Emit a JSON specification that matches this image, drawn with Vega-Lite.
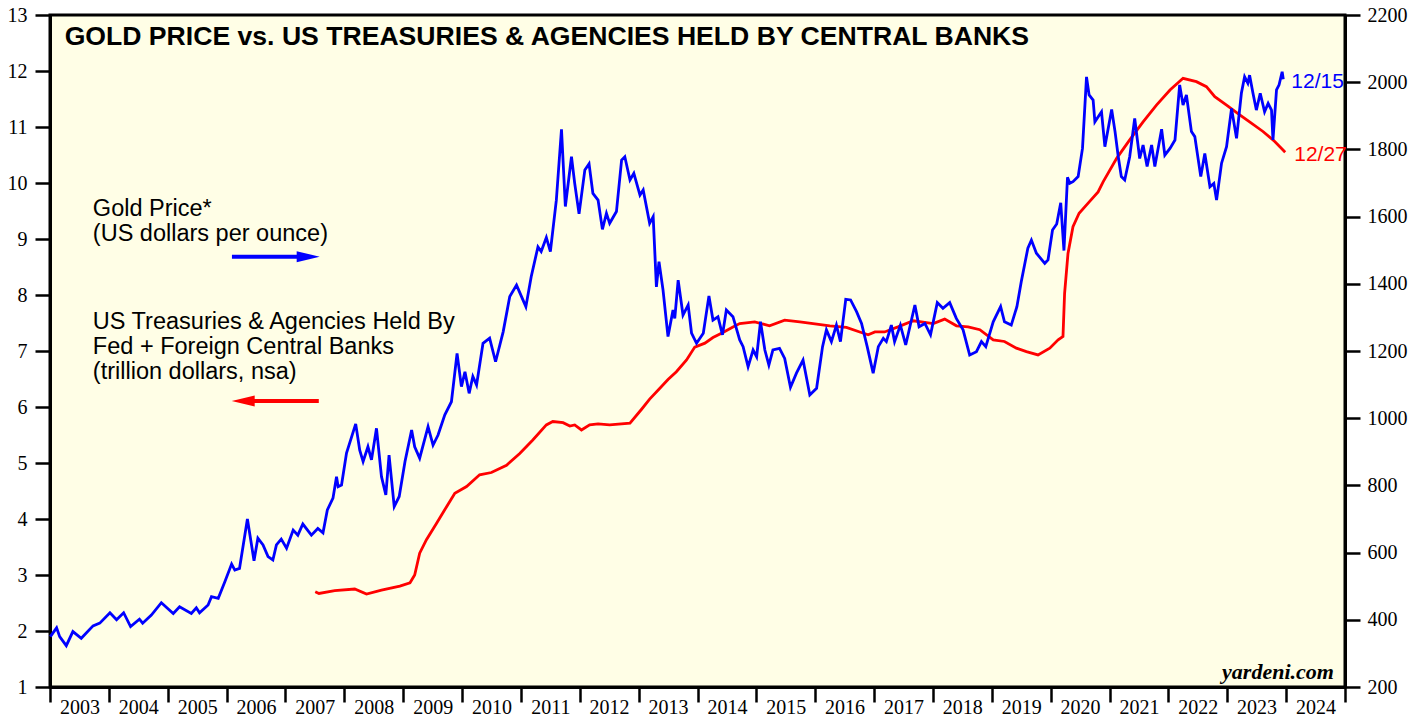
{
  "$schema": "https://vega.github.io/schema/vega-lite/v6.json",
  "width": 1295,
  "height": 672,
  "autosize": {"type": "none"},
  "padding": {"left": 50, "top": 15, "right": 82, "bottom": 32},
  "background": "white",
  "config": {
    "view": {"stroke": "black", "strokeWidth": 3, "fill": "#FFFEE6"},
    "axis": {"grid": false, "domainColor": "black", "domainWidth": 3, "tickColor": "black", "tickWidth": 2.5, "labelColor": "black", "labelFont": "Liberation Serif", "labelFontSize": 20}
  },
  "datasets": {
    "gold": [
      {"date":"2003-01-03","price":350},{"date":"2003-02-11","price":376},{"date":"2003-03-02","price":350},{"date":"2003-04-12","price":323},{"date":"2003-05-23","price":365},{"date":"2003-07-14","price":345},{"date":"2003-09-25","price":382},{"date":"2003-11-06","price":390},
      {"date":"2004-01-08","price":421},{"date":"2004-02-18","price":400},{"date":"2004-04-02","price":421},{"date":"2004-05-15","price":380},{"date":"2004-07-09","price":402},{"date":"2004-07-29","price":390},{"date":"2004-09-21","price":414},{"date":"2004-11-22","price":451},
      {"date":"2005-02-04","price":419},{"date":"2005-03-15","price":439},{"date":"2005-05-27","price":419},{"date":"2005-06-27","price":436},{"date":"2005-07-17","price":421},{"date":"2005-09-08","price":444},{"date":"2005-09-29","price":469},{"date":"2005-11-10","price":464},{"date":"2005-12-21","price":513},
      {"date":"2006-02-01","price":566},{"date":"2006-02-21","price":548},{"date":"2006-03-22","price":553},{"date":"2006-05-10","price":700},{"date":"2006-06-20","price":576},{"date":"2006-07-14","price":643},{"date":"2006-08-15","price":623},{"date":"2006-09-15","price":588},{"date":"2006-10-15","price":578},{"date":"2006-11-06","price":623},{"date":"2006-12-06","price":640},
      {"date":"2007-01-08","price":613},{"date":"2007-02-18","price":667},{"date":"2007-03-19","price":652},{"date":"2007-04-19","price":685},{"date":"2007-06-11","price":652},{"date":"2007-07-21","price":672},{"date":"2007-08-22","price":659},{"date":"2007-09-18","price":727},{"date":"2007-10-23","price":762},{"date":"2007-11-14","price":826},{"date":"2007-11-24","price":796},{"date":"2007-12-15","price":801},
      {"date":"2008-01-15","price":896},{"date":"2008-03-12","price":983},{"date":"2008-04-06","price":905},{"date":"2008-04-27","price":871},{"date":"2008-05-27","price":915},{"date":"2008-06-18","price":876},{"date":"2008-07-19","price":970},{"date":"2008-08-19","price":826},{"date":"2008-09-15","price":772},{"date":"2008-10-05","price":890},{"date":"2008-11-06","price":737},{"date":"2008-12-07","price":767},
      {"date":"2009-01-12","price":871},{"date":"2009-02-22","price":965},{"date":"2009-03-13","price":915},{"date":"2009-04-13","price":881},{"date":"2009-06-04","price":975},{"date":"2009-07-05","price":920},{"date":"2009-08-05","price":950},{"date":"2009-09-16","price":1010},{"date":"2009-10-27","price":1049},{"date":"2009-12-01","price":1193},{"date":"2009-12-28","price":1094},
      {"date":"2010-01-19","price":1138},{"date":"2010-02-14","price":1074},{"date":"2010-03-09","price":1124},{"date":"2010-04-01","price":1099},{"date":"2010-05-11","price":1223},{"date":"2010-06-21","price":1238},{"date":"2010-07-28","price":1168},{"date":"2010-09-13","price":1257},{"date":"2010-10-24","price":1362},{"date":"2010-12-05","price":1396},
      {"date":"2011-02-01","price":1332},{"date":"2011-03-06","price":1421},{"date":"2011-04-17","price":1510},{"date":"2011-05-07","price":1496},{"date":"2011-06-08","price":1538},{"date":"2011-07-03","price":1496},{"date":"2011-08-09","price":1649},{"date":"2011-09-10","price":1860},{"date":"2011-10-04","price":1630},{"date":"2011-11-11","price":1778},{"date":"2011-12-01","price":1699},{"date":"2011-12-28","price":1608},
      {"date":"2012-02-02","price":1739},{"date":"2012-02-28","price":1757},{"date":"2012-03-23","price":1669},{"date":"2012-04-24","price":1649},{"date":"2012-05-21","price":1562},{"date":"2012-06-15","price":1610},{"date":"2012-07-05","price":1580},{"date":"2012-08-16","price":1615},{"date":"2012-09-17","price":1768},{"date":"2012-10-07","price":1778},{"date":"2012-11-08","price":1709},{"date":"2012-12-02","price":1729},
      {"date":"2013-01-09","price":1664},{"date":"2013-01-29","price":1679},{"date":"2013-03-10","price":1580},{"date":"2013-04-01","price":1600},{"date":"2013-04-21","price":1391},{"date":"2013-05-07","price":1466},{"date":"2013-06-01","price":1382},{"date":"2013-07-02","price":1243},{"date":"2013-08-02","price":1322},{"date":"2013-08-13","price":1297},{"date":"2013-09-03","price":1411},{"date":"2013-10-03","price":1307},{"date":"2013-11-04","price":1337},{"date":"2013-11-25","price":1253},{"date":"2013-12-26","price":1223},
      {"date":"2014-02-06","price":1253},{"date":"2014-03-13","price":1364},{"date":"2014-04-07","price":1292},{"date":"2014-05-08","price":1302},{"date":"2014-06-05","price":1248},{"date":"2014-06-29","price":1322},{"date":"2014-08-09","price":1302},{"date":"2014-09-20","price":1233},{"date":"2014-10-11","price":1213},{"date":"2014-11-11","price":1153},{"date":"2014-12-12","price":1203},
      {"date":"2015-01-03","price":1183},{"date":"2015-01-27","price":1287},{"date":"2015-02-23","price":1203},{"date":"2015-03-20","price":1158},{"date":"2015-04-14","price":1203},{"date":"2015-05-25","price":1208},{"date":"2015-06-26","price":1178},{"date":"2015-08-01","price":1092},{"date":"2015-09-07","price":1134},{"date":"2015-10-18","price":1173},{"date":"2015-11-29","price":1069},
      {"date":"2016-01-10","price":1089},{"date":"2016-02-16","price":1213},{"date":"2016-03-11","price":1263},{"date":"2016-04-11","price":1228},{"date":"2016-05-12","price":1277},{"date":"2016-06-06","price":1228},{"date":"2016-07-09","price":1354},{"date":"2016-08-08","price":1352},{"date":"2016-09-14","price":1317},{"date":"2016-10-15","price":1282},{"date":"2016-11-19","price":1213},{"date":"2016-12-26","price":1134},
      {"date":"2017-01-27","price":1213},{"date":"2017-02-27","price":1238},{"date":"2017-03-18","price":1228},{"date":"2017-04-18","price":1277},{"date":"2017-05-08","price":1228},{"date":"2017-06-13","price":1277},{"date":"2017-07-16","price":1218},{"date":"2017-09-11","price":1337},{"date":"2017-10-07","price":1272},{"date":"2017-11-12","price":1282},{"date":"2017-12-17","price":1248},
      {"date":"2018-01-28","price":1344},{"date":"2018-03-04","price":1327},{"date":"2018-04-15","price":1344},{"date":"2018-05-26","price":1297},{"date":"2018-07-07","price":1263},{"date":"2018-08-17","price":1188},{"date":"2018-09-28","price":1198},{"date":"2018-10-29","price":1228},{"date":"2018-11-25","price":1213},
      {"date":"2019-01-10","price":1287},{"date":"2019-02-25","price":1332},{"date":"2019-03-21","price":1287},{"date":"2019-05-02","price":1277},{"date":"2019-06-06","price":1332},{"date":"2019-07-03","price":1406},{"date":"2019-08-13","price":1506},{"date":"2019-09-04","price":1530},{"date":"2019-10-05","price":1491},{"date":"2019-11-26","price":1461},{"date":"2019-12-16","price":1471},
      {"date":"2020-01-13","price":1560},{"date":"2020-02-08","price":1578},{"date":"2020-03-04","price":1641},{"date":"2020-03-24","price":1499},{"date":"2020-04-15","price":1717},{"date":"2020-04-29","price":1699},{"date":"2020-05-19","price":1704},{"date":"2020-06-20","price":1719},{"date":"2020-07-17","price":1803},{"date":"2020-08-11","price":2016},{"date":"2020-08-27","price":1962},{"date":"2020-09-21","price":1947},{"date":"2020-10-02","price":1882},{"date":"2020-11-12","price":1912},{"date":"2020-12-03","price":1808},
      {"date":"2021-01-14","price":1919},{"date":"2021-02-04","price":1853},{"date":"2021-02-24","price":1778},{"date":"2021-03-15","price":1719},{"date":"2021-04-05","price":1709},{"date":"2021-05-06","price":1778},{"date":"2021-06-06","price":1892},{"date":"2021-07-07","price":1773},{"date":"2021-07-28","price":1813},{"date":"2021-08-22","price":1749},{"date":"2021-09-19","price":1813},{"date":"2021-10-09","price":1749},{"date":"2021-11-20","price":1860},{"date":"2021-12-10","price":1783},
      {"date":"2022-01-11","price":1803},{"date":"2022-02-11","price":1828},{"date":"2022-03-12","price":1992},{"date":"2022-04-02","price":1932},{"date":"2022-04-23","price":1962},{"date":"2022-05-24","price":1853},{"date":"2022-06-14","price":1838},{"date":"2022-07-21","price":1719},{"date":"2022-08-15","price":1788},{"date":"2022-09-16","price":1689},{"date":"2022-10-10","price":1699},{"date":"2022-10-27","price":1649},{"date":"2022-11-27","price":1759},{"date":"2022-12-28","price":1808},
      {"date":"2023-01-28","price":1922},{"date":"2023-02-28","price":1833},{"date":"2023-03-30","price":1967},{"date":"2023-04-19","price":2016},{"date":"2023-05-09","price":1997},{"date":"2023-05-20","price":2021},{"date":"2023-06-10","price":1967},{"date":"2023-07-01","price":1917},{"date":"2023-07-25","price":1967},{"date":"2023-08-21","price":1912},{"date":"2023-09-12","price":1937},{"date":"2023-10-03","price":1917},{"date":"2023-10-12","price":1828},{"date":"2023-11-03","price":1977},{"date":"2023-11-19","price":1992},{"date":"2023-12-08","price":2031},{"date":"2023-12-15","price":2009}
    ],
    "ust": [
      {"date":"2007-07-05","value":2.70},{"date":"2007-07-28","value":2.67},{"date":"2007-11-03","value":2.72},{"date":"2008-03-06","value":2.75},{"date":"2008-05-18","value":2.66},{"date":"2008-08-19","value":2.73},{"date":"2008-12-11","value":2.80},
      {"date":"2009-02-12","value":2.86},{"date":"2009-03-13","value":3.00},{"date":"2009-04-13","value":3.39},{"date":"2009-05-25","value":3.63},{"date":"2009-07-26","value":3.92},{"date":"2009-09-27","value":4.22},{"date":"2009-11-17","value":4.46},
      {"date":"2010-01-29","value":4.58},{"date":"2010-04-20","value":4.79},{"date":"2010-07-02","value":4.83},{"date":"2010-10-04","value":4.96},{"date":"2010-12-25","value":5.17},
      {"date":"2011-03-16","value":5.41},{"date":"2011-06-08","value":5.68},{"date":"2011-07-18","value":5.74},{"date":"2011-09-20","value":5.72},{"date":"2011-11-01","value":5.66},{"date":"2011-12-01","value":5.68},
      {"date":"2012-01-12","value":5.59},{"date":"2012-03-03","value":5.68},{"date":"2012-04-24","value":5.70},{"date":"2012-07-05","value":5.68},{"date":"2012-11-08","value":5.71},
      {"date":"2013-01-19","value":5.96},{"date":"2013-03-10","value":6.14},{"date":"2013-05-11","value":6.33},{"date":"2013-07-02","value":6.49},{"date":"2013-08-23","value":6.63},{"date":"2013-10-25","value":6.84},{"date":"2013-12-15","value":7.07},
      {"date":"2014-02-16","value":7.14},{"date":"2014-04-07","value":7.24},{"date":"2014-06-08","value":7.33},{"date":"2014-08-09","value":7.43},{"date":"2014-09-20","value":7.49},{"date":"2014-12-22","value":7.52},
      {"date":"2015-03-24","value":7.45},{"date":"2015-06-26","value":7.55},{"date":"2015-09-28","value":7.52},{"date":"2015-12-19","value":7.49},
      {"date":"2016-04-01","value":7.45},{"date":"2016-07-13","value":7.42},{"date":"2016-10-04","value":7.34},{"date":"2016-11-25","value":7.29},
      {"date":"2017-01-06","value":7.34},{"date":"2017-03-07","value":7.34},{"date":"2017-05-29","value":7.43},{"date":"2017-09-01","value":7.54},
      {"date":"2018-01-03","value":7.49},{"date":"2018-03-15","value":7.57},{"date":"2018-05-27","value":7.45},{"date":"2018-08-07","value":7.43},{"date":"2018-10-19","value":7.38},
      {"date":"2019-01-10","value":7.20},{"date":"2019-03-21","value":7.17},{"date":"2019-06-03","value":7.05},{"date":"2019-08-04","value":6.99},{"date":"2019-10-15","value":6.93},{"date":"2019-12-27","value":7.05},
      {"date":"2020-02-17","value":7.20},{"date":"2020-03-18","value":7.26},{"date":"2020-03-28","value":8.03},{"date":"2020-04-18","value":8.74},{"date":"2020-05-19","value":9.22},{"date":"2020-06-26","value":9.46},{"date":"2020-08-21","value":9.64},{"date":"2020-10-22","value":9.84},{"date":"2020-11-22","value":10.02},
      {"date":"2021-02-14","value":10.44},{"date":"2021-05-06","value":10.77},{"date":"2021-07-28","value":11.09},{"date":"2021-10-19","value":11.39},
      {"date":"2022-01-11","value":11.66},{"date":"2022-04-02","value":11.87},{"date":"2022-06-24","value":11.81},{"date":"2022-08-25","value":11.72},{"date":"2022-10-16","value":11.54},{"date":"2022-12-28","value":11.39},
      {"date":"2023-03-09","value":11.24},{"date":"2023-05-20","value":11.09},{"date":"2023-08-11","value":10.92},{"date":"2023-10-23","value":10.74},{"date":"2023-12-27","value":10.55}
    ],
    "one": [{}]
  },
  "layer": [
    {
      "layer": [
        {
          "data": {"name": "ust"},
          "mark": {"type": "line", "color": "#FF0000", "strokeWidth": 2.8},
          "encoding": {
            "x": {"field": "date", "type": "temporal", "title": null,
              "scale": {"domain": [{"year":2003,"month":1,"date":1},{"year":2025,"month":1,"date":1}]},
              "axis": {"orient": "bottom",
                "values": [{"year":2003,"month":1,"date":1},{"year":2004,"month":1,"date":1},{"year":2005,"month":1,"date":1},{"year":2006,"month":1,"date":1},{"year":2007,"month":1,"date":1},{"year":2008,"month":1,"date":1},{"year":2009,"month":1,"date":1},{"year":2010,"month":1,"date":1},{"year":2011,"month":1,"date":1},{"year":2012,"month":1,"date":1},{"year":2013,"month":1,"date":1},{"year":2014,"month":1,"date":1},{"year":2015,"month":1,"date":1},{"year":2016,"month":1,"date":1},{"year":2017,"month":1,"date":1},{"year":2018,"month":1,"date":1},{"year":2019,"month":1,"date":1},{"year":2020,"month":1,"date":1},{"year":2021,"month":1,"date":1},{"year":2022,"month":1,"date":1},{"year":2023,"month":1,"date":1},{"year":2024,"month":1,"date":1},{"year":2025,"month":1,"date":1}],
                "format": "%Y", "labelExpr": "year(datum.value) >= 2025 ? '' : datum.label",
                "labelOffset": 29.4, "labelAlign": "center", "labelFlush": false, "labelOverlap": false, "labelBound": false,
                "tickSize": 15, "labelPadding": -5}},
            "y": {"field": "value", "type": "quantitative", "title": null,
              "scale": {"domain": [1, 13], "nice": false, "zero": false},
              "axis": {"orient": "left",
                "values": [1,1.5,2,2.5,3,3.5,4,4.5,5,5.5,6,6.5,7,7.5,8,8.5,9,9.5,10,10.5,11,11.5,12,12.5,13],
                "format": "d",
                "labelExpr": "datum.value % 1 === 0 ? datum.label : ''",
                "tickSize": {"condition": {"test": "datum.value % 1 !== 0", "value": 8}, "value": 15},
                "labelPadding": 8, "labelOverlap": false, "labelBound": false, "labelFlush": false}}
          }
        },
        {
          "data": {"name": "one"},
          "mark": {"type": "text", "align": "left", "baseline": "alphabetic", "font": "Liberation Sans", "fontWeight": "bold", "fontSize": 26.6, "color": "black"},
          "encoding": {
            "x": {"datum": {"year":2003,"month":4,"date":2}, "type": "temporal", "title": null},
            "y": {"datum": 12.464, "type": "quantitative", "title": null},
            "text": {"value": "GOLD PRICE vs. US TREASURIES & AGENCIES HELD BY CENTRAL BANKS"}
          }
        },
        {
          "data": {"name": "one"},
          "mark": {"type": "text", "align": "left", "baseline": "alphabetic", "font": "Liberation Sans", "fontSize": 23.5, "lineHeight": 25, "color": "black"},
          "encoding": {
            "x": {"datum": {"year":2003,"month":9,"date":24}, "type": "temporal", "title": null},
            "y": {"datum": 9.411, "type": "quantitative", "title": null},
            "text": {"value": ["Gold Price*", "(US dollars per ounce)"]}
          }
        },
        {
          "data": {"name": "one"},
          "mark": {"type": "text", "align": "left", "baseline": "alphabetic", "font": "Liberation Sans", "fontSize": 23.5, "lineHeight": 25, "color": "black"},
          "encoding": {
            "x": {"datum": {"year":2003,"month":9,"date":24}, "type": "temporal", "title": null},
            "y": {"datum": 7.393, "type": "quantitative", "title": null},
            "text": {"value": ["US Treasuries & Agencies Held By", "Fed + Foreign Central Banks", "(trillion dollars, nsa)"]}
          }
        },
        {
          "data": {"name": "one"},
          "mark": {"type": "rule", "color": "#0000FF", "strokeWidth": 4},
          "encoding": {
            "x": {"datum": {"year":2006,"month":2,"date":3}, "type": "temporal", "title": null},
            "x2": {"datum": {"year":2007,"month":3,"date":30}},
            "y": {"datum": 8.684, "type": "quantitative", "title": null}
          }
        },
        {
          "data": {"name": "one"},
          "mark": {"type": "point", "shape": "M-1,-0.48L1,0L-1,0.48Z", "size": 529, "filled": true, "color": "#0000FF", "opacity": 1},
          "encoding": {
            "x": {"datum": {"year":2007,"month":5,"date":22}, "type": "temporal", "title": null},
            "y": {"datum": 8.684, "type": "quantitative", "title": null}
          }
        },
        {
          "data": {"name": "one"},
          "mark": {"type": "rule", "color": "#FF0000", "strokeWidth": 4},
          "encoding": {
            "x": {"datum": {"year":2006,"month":5,"date":25}, "type": "temporal", "title": null},
            "x2": {"datum": {"year":2007,"month":7,"date":27}},
            "y": {"datum": 6.107, "type": "quantitative", "title": null}
          }
        },
        {
          "data": {"name": "one"},
          "mark": {"type": "point", "shape": "M1,-0.48L-1,0L1,0.48Z", "size": 529, "filled": true, "color": "#FF0000", "opacity": 1},
          "encoding": {
            "x": {"datum": {"year":2006,"month":4,"date":14}, "type": "temporal", "title": null},
            "y": {"datum": 6.107, "type": "quantitative", "title": null}
          }
        },
        {
          "data": {"name": "one"},
          "mark": {"type": "text", "align": "right", "baseline": "alphabetic", "font": "Liberation Serif", "fontWeight": "bold", "fontStyle": "italic", "fontSize": 22, "color": "black"},
          "encoding": {
            "x": {"datum": {"year":2024,"month":10,"date":24}, "type": "temporal", "title": null},
            "y": {"datum": 1.143, "type": "quantitative", "title": null},
            "text": {"value": "yardeni.com"}
          }
        },
        {
          "data": {"name": "ust"},
          "transform": [
            {"window": [{"op": "row_number", "as": "rn"}], "sort": [{"field": "date", "order": "descending"}]},
            {"filter": "datum.rn == 1"}
          ],
          "mark": {"type": "text", "align": "left", "baseline": "middle", "dx": 9, "dy": 3, "font": "Liberation Sans", "fontSize": 21, "color": "#FF0000"},
          "encoding": {
            "x": {"field": "date", "type": "temporal", "title": null},
            "y": {"field": "value", "type": "quantitative", "title": null},
            "text": {"value": "12/27"}
          }
        }
      ]
    },
    {
      "layer": [
        {
          "data": {"name": "gold"},
          "mark": {"type": "line", "color": "#0000FF", "strokeWidth": 2.8},
          "encoding": {
            "x": {"field": "date", "type": "temporal", "title": null},
            "y": {"field": "price", "type": "quantitative", "title": null,
              "scale": {"domain": [200, 2200], "nice": false, "zero": false},
              "axis": {"orient": "right",
                "values": [200,300,400,500,600,700,800,900,1000,1100,1200,1300,1400,1500,1600,1700,1800,1900,2000,2100,2200],
                "format": "d",
                "labelExpr": "datum.value % 200 === 0 ? datum.label : ''",
                "tickSize": {"condition": {"test": "datum.value % 200 !== 0", "value": 8}, "value": 15},
                "labelPadding": 7, "labelOverlap": false, "labelBound": false, "labelFlush": false}}
          }
        },
        {
          "data": {"name": "gold"},
          "transform": [
            {"window": [{"op": "row_number", "as": "rn"}], "sort": [{"field": "date", "order": "descending"}]},
            {"filter": "datum.rn == 1"}
          ],
          "mark": {"type": "text", "align": "left", "baseline": "middle", "dx": 8, "dy": 3, "font": "Liberation Sans", "fontSize": 21, "color": "#0000FF"},
          "encoding": {
            "x": {"field": "date", "type": "temporal", "title": null},
            "y": {"field": "price", "type": "quantitative", "title": null},
            "text": {"value": "12/15"}
          }
        }
      ]
    }
  ],
  "resolve": {"scale": {"y": "independent"}, "axis": {"y": "independent"}}
}
